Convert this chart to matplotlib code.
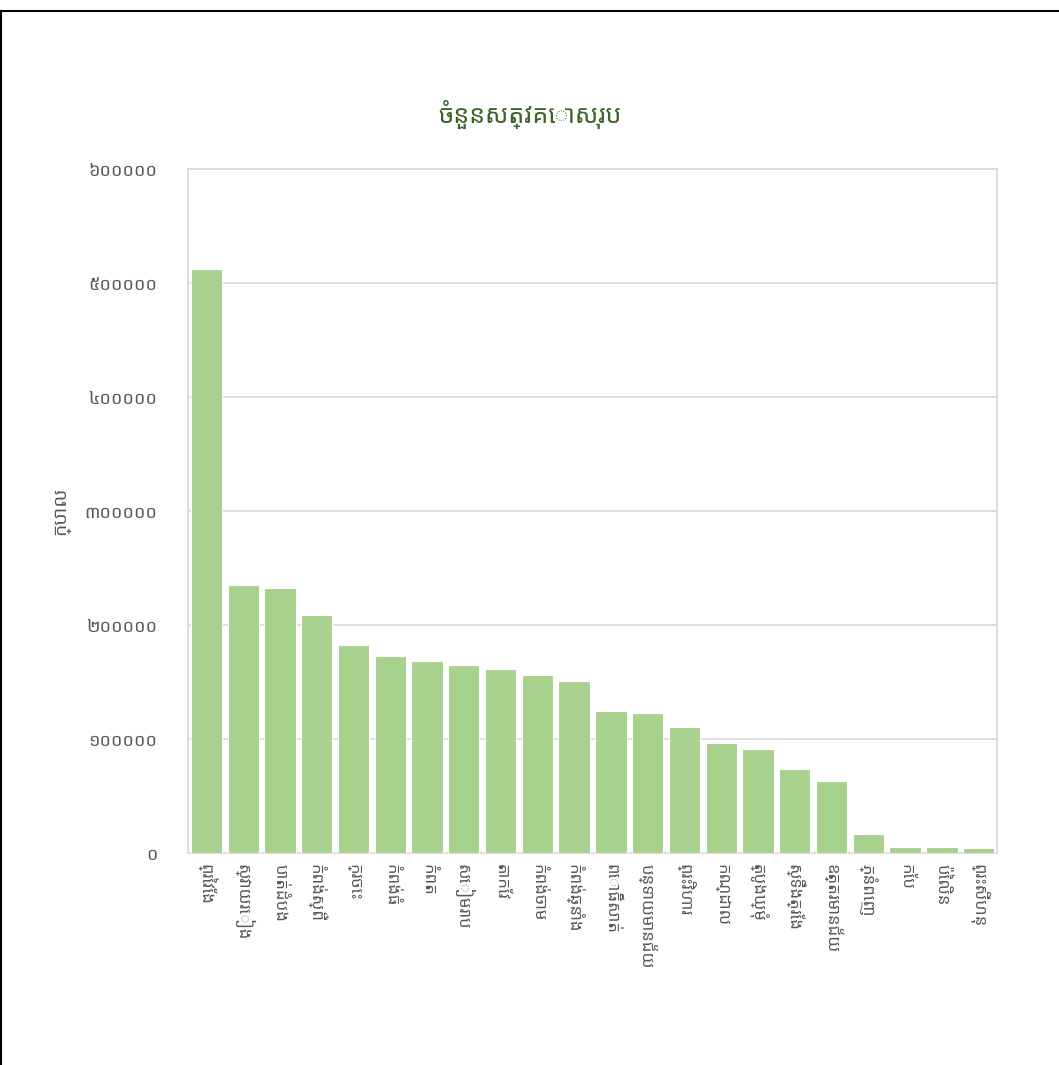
import numpy as np
import matplotlib.pyplot as plt
from matplotlib import font_manager

# pick a font that can show Khmer, if there is one
installed = {f.name for f in font_manager.fontManager.ttflist}
candidates = ["Noto Sans Khmer", "Noto Serif Khmer", "Khmer OS", "Khmer OS System", "Hanuman", "Battambang"]
families = [c for c in candidates if c in installed] + ["DejaVu Sans"]
plt.rcParams["font.family"] = families

khet = ["ព្រៃវែង", "ស្វាយរៀង", "បាត់ដំបង", "កំពង់ស្ពឺ", "ក្រចេះ", "កំពង់ធំ", "កំពត", "សៀមរាប",
        "តាកែវ", "កំពង់ចាម", "កំពង់ឆ្នាំង", "ពោធិ៍សាត់", "បន្ទាយមានជ័យ", "ព្រះវិហារ", "កណ្ដាល",
        "ត្បូងឃ្មុំ", "ស្ទឹងត្រែង", "ឧត្តរមានជ័យ", "ភ្នំពេញ", "កែប", "ប៉ៃលិន", "ព្រះសីហនុ"]
sat_ko = [512000, 235000, 232500, 209000, 182500, 173000, 168500, 165000,
          161500, 156500, 151000, 124500, 122800, 110500, 96500,
          91200, 73700, 63200, 16700, 5300, 5300, 4400]
yticks = [0, 100000, 200000, 300000, 400000, 500000, 600000]
ytick_labels = ["០", "១០០០០០", "២០០០០០", "៣០០០០០", "៤០០០០០", "៥០០០០០", "៦០០០០០"]

fig = plt.figure(figsize=(10.59, 10.65), dpi=100)
ax = fig.add_axes([0.1775, 0.199, 0.764, 0.6423])

x = np.arange(len(khet))
ax.bar(x, sat_ko, width=0.85, color="#a9d18e", edgecolor="white", linewidth=0.8, zorder=3)

ax.set_xlim(-0.5, len(khet) - 0.5)
ax.set_ylim(0, 600000)
ax.set_yticks(yticks)
ax.set_yticklabels(ytick_labels, color="#595959", fontsize=13)
ax.set_xticks(x)
ax.set_xticklabels(khet, rotation=-90, color="#595959", fontsize=12, va="top", ha="center")
ax.tick_params(axis="both", length=0)
ax.tick_params(axis="y", pad=22)
ax.tick_params(axis="x", pad=8)
ax.grid(axis="y", color="#d9d9d9", linewidth=1.2, zorder=0)
for s in ax.spines.values():
    s.set_color("#d9d9d9")
    s.set_linewidth(1.2)

ax.set_ylabel("ក្បាល", color="#595959", fontsize=14, labelpad=10)
fig.text(0.5, 0.893, "ចំនួនសត្វគោសរុប", ha="center", va="center", fontsize=18, color="#3b6426")

# black outline of the chart area
fig.add_artist(plt.Line2D([0, 1], [0.9897, 0.9897], color="black", linewidth=1.5))
fig.add_artist(plt.Line2D([0.0012, 0.0012], [0, 0.9897], color="black", linewidth=1.5))

fig.savefig("out.png", dpi=100)
